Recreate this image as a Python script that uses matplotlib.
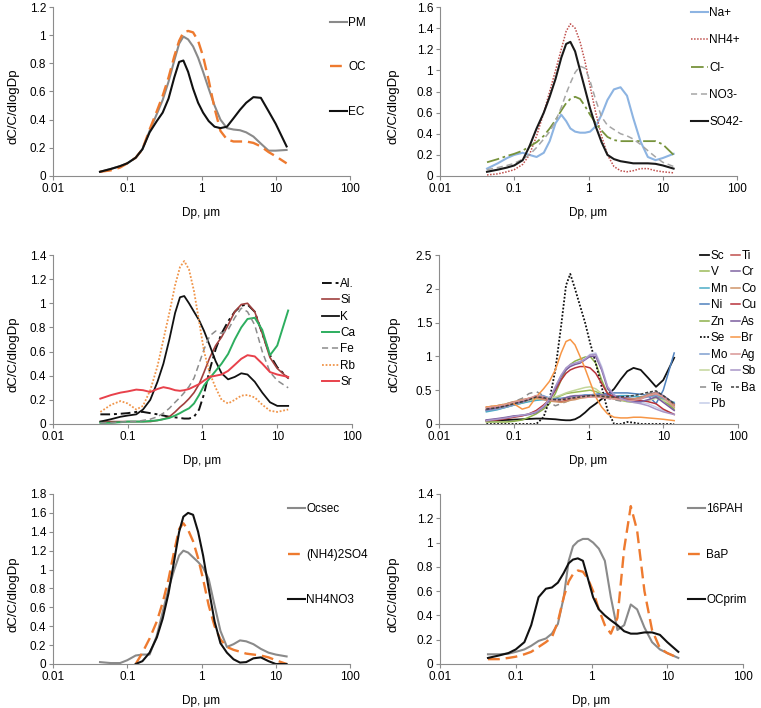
import numpy as np
import matplotlib
matplotlib.use("Agg")
import matplotlib.pyplot as plt
from matplotlib.ticker import FixedLocator, FuncFormatter, NullLocator

plt.rcParams['font.family'] = ['Liberation Sans', 'DejaVu Sans']
plt.rcParams['font.size'] = 8.5

# particle diameter (µm) at which the curves were read
dp = [0.043, 0.06, 0.08, 0.1, 0.13, 0.16, 0.2, 0.25, 0.3, 0.36, 0.43, 0.5, 0.57, 0.66,
      0.77, 0.9, 1.05, 1.25, 1.5, 1.8, 2.2, 2.7, 3.3, 4.0, 5.0, 6.3, 8.0, 10.0, 14.0]

# panel 1: PM, OC, EC
pm = [0.03, 0.05, 0.07, 0.09, 0.13, 0.19, 0.32, 0.44, 0.54, 0.67, 0.82, 0.94, 0.99, 0.97, 0.92,
      0.84, 0.74, 0.62, 0.50, 0.40, 0.34, 0.33, 0.325, 0.31, 0.28, 0.23, 0.18, 0.18, 0.185]
oc = [0.03, 0.04, 0.06, 0.09, 0.13, 0.19, 0.33, 0.46, 0.57, 0.70, 0.85, 0.96, 1.02, 1.03, 1.02,
      0.96, 0.85, 0.68, 0.48, 0.32, 0.26, 0.245, 0.245, 0.245, 0.235, 0.21, 0.17, 0.14, 0.09]
ec = [0.03, 0.05, 0.07, 0.09, 0.13, 0.19, 0.31, 0.39, 0.45, 0.55, 0.70, 0.81, 0.82, 0.74, 0.62,
      0.52, 0.45, 0.39, 0.35, 0.34, 0.35, 0.41, 0.47, 0.52, 0.56, 0.555, 0.46, 0.37, 0.21]

# panel 2: ions
na = [0.07, 0.12, 0.17, 0.20, 0.22, 0.20, 0.18, 0.22, 0.33, 0.50, 0.58, 0.52, 0.45, 0.42, 0.41,
      0.41, 0.42, 0.47, 0.58, 0.72, 0.82, 0.84, 0.76, 0.55, 0.33, 0.18, 0.15, 0.17, 0.21]
nh4 = [0.01, 0.02, 0.04, 0.06, 0.11, 0.20, 0.38, 0.60, 0.80, 1.00, 1.20, 1.37, 1.44, 1.40, 1.27,
       1.08, 0.85, 0.60, 0.38, 0.20, 0.09, 0.05, 0.04, 0.05, 0.07, 0.07, 0.05, 0.04, 0.03]
cl = [0.13, 0.16, 0.19, 0.21, 0.24, 0.28, 0.32, 0.38, 0.45, 0.53, 0.62, 0.69, 0.73, 0.75, 0.73,
      0.66, 0.58, 0.50, 0.43, 0.37, 0.34, 0.33, 0.33, 0.33, 0.33, 0.33, 0.33, 0.30, 0.20]
no3 = [0.06, 0.08, 0.10, 0.12, 0.16, 0.20, 0.27, 0.35, 0.42, 0.52, 0.65, 0.78, 0.88, 0.98, 1.04,
       1.02, 0.90, 0.72, 0.56, 0.48, 0.44, 0.40, 0.38, 0.35, 0.30, 0.24, 0.18, 0.13, 0.09]
so4 = [0.04, 0.06, 0.08, 0.10, 0.15, 0.28, 0.45, 0.60, 0.75, 0.92, 1.12, 1.25, 1.27, 1.18, 1.00,
       0.82, 0.64, 0.47, 0.32, 0.20, 0.16, 0.14, 0.13, 0.12, 0.12, 0.12, 0.115, 0.10, 0.07]

# panel 3: crustal elements
al = [0.08, 0.08, 0.085, 0.09, 0.10, 0.10, 0.09, 0.08, 0.07, 0.06, 0.055, 0.05, 0.045, 0.045, 0.06,
      0.12, 0.25, 0.45, 0.62, 0.75, 0.85, 0.93, 0.98, 0.99, 0.93, 0.75, 0.57, 0.47, 0.38]
si = [0.02, 0.02, 0.02, 0.02, 0.02, 0.02, 0.02, 0.03, 0.04, 0.06, 0.10, 0.14, 0.17, 0.21, 0.26,
      0.33, 0.43, 0.55, 0.65, 0.72, 0.82, 0.93, 0.99, 1.00, 0.93, 0.75, 0.55, 0.46, 0.38]
k = [0.02, 0.04, 0.06, 0.07, 0.08, 0.12, 0.20, 0.35, 0.50, 0.70, 0.92, 1.05, 1.06, 1.00, 0.93,
     0.86, 0.77, 0.65, 0.52, 0.42, 0.37, 0.39, 0.42, 0.41, 0.35, 0.26, 0.18, 0.15, 0.15]
ca = [0.01, 0.01, 0.015, 0.02, 0.02, 0.02, 0.025, 0.03, 0.04, 0.05, 0.07, 0.09, 0.11, 0.13, 0.17,
      0.24, 0.32, 0.38, 0.44, 0.50, 0.58, 0.70, 0.80, 0.87, 0.88, 0.78, 0.57, 0.65, 0.94]
fe = [0.01, 0.01, 0.015, 0.02, 0.02, 0.03, 0.04, 0.06, 0.09, 0.13, 0.18, 0.22, 0.26, 0.31, 0.38,
      0.50, 0.62, 0.73, 0.77, 0.75, 0.78, 0.88, 0.96, 0.93, 0.82, 0.60, 0.43, 0.36, 0.30]
rb = [0.10, 0.16, 0.19, 0.17, 0.12, 0.15, 0.28, 0.48, 0.70, 0.92, 1.15, 1.30, 1.35, 1.28, 1.10,
      0.85, 0.60, 0.42, 0.30, 0.20, 0.17, 0.20, 0.235, 0.24, 0.22, 0.16, 0.11, 0.10, 0.12]
sr = [0.21, 0.24, 0.26, 0.27, 0.285, 0.28, 0.265, 0.29, 0.305, 0.295, 0.28, 0.275, 0.28, 0.29, 0.31,
      0.33, 0.36, 0.39, 0.40, 0.41, 0.44, 0.49, 0.54, 0.57, 0.56, 0.50, 0.43, 0.41, 0.39]

# panel 4: trace elements
sc = [0.05, 0.055, 0.06, 0.065, 0.07, 0.075, 0.08, 0.08, 0.075, 0.07, 0.06, 0.055, 0.055, 0.07, 0.11,
      0.17, 0.24, 0.30, 0.37, 0.43, 0.52, 0.66, 0.78, 0.83, 0.80, 0.68, 0.55, 0.65, 0.98]
ti = [0.22, 0.25, 0.28, 0.31, 0.35, 0.38, 0.40, 0.38, 0.35, 0.34, 0.33, 0.35, 0.37, 0.38, 0.40,
      0.41, 0.42, 0.42, 0.41, 0.40, 0.40, 0.39, 0.38, 0.37, 0.38, 0.42, 0.45, 0.40, 0.28]
v = [0.20, 0.22, 0.25, 0.28, 0.31, 0.34, 0.37, 0.38, 0.36, 0.38, 0.42, 0.45, 0.46, 0.47, 0.48,
     0.49, 0.50, 0.48, 0.44, 0.40, 0.37, 0.35, 0.33, 0.32, 0.32, 0.35, 0.40, 0.36, 0.25]
cr = [0.21, 0.24, 0.27, 0.30, 0.33, 0.36, 0.42, 0.40, 0.36, 0.34, 0.36, 0.39, 0.41, 0.42, 0.42,
      0.41, 0.41, 0.42, 0.43, 0.43, 0.42, 0.40, 0.38, 0.36, 0.38, 0.43, 0.47, 0.42, 0.30]
mn = [0.18, 0.21, 0.25, 0.28, 0.31, 0.33, 0.35, 0.36, 0.35, 0.36, 0.37, 0.38, 0.39, 0.40, 0.41,
      0.42, 0.42, 0.41, 0.40, 0.40, 0.41, 0.42, 0.42, 0.41, 0.40, 0.41, 0.42, 0.38, 0.32]
co = [0.25, 0.27, 0.30, 0.33, 0.36, 0.38, 0.38, 0.36, 0.34, 0.33, 0.32, 0.33, 0.35, 0.36, 0.38,
      0.39, 0.40, 0.41, 0.41, 0.40, 0.39, 0.38, 0.37, 0.37, 0.39, 0.43, 0.46, 0.40, 0.28]
ni = [0.20, 0.23, 0.27, 0.30, 0.33, 0.35, 0.38, 0.40, 0.39, 0.38, 0.38, 0.39, 0.40, 0.41, 0.42,
      0.43, 0.43, 0.44, 0.45, 0.45, 0.46, 0.46, 0.46, 0.45, 0.44, 0.42, 0.30, 0.50, 1.05]
cu = [0.05, 0.06, 0.08, 0.10, 0.12, 0.15, 0.20, 0.28, 0.36, 0.50, 0.65, 0.75, 0.80, 0.83, 0.85,
      0.85, 0.83, 0.75, 0.60, 0.45, 0.40, 0.38, 0.36, 0.35, 0.35, 0.33, 0.30, 0.22, 0.14]
zn = [0.03, 0.03, 0.03, 0.04, 0.06, 0.10, 0.15, 0.22, 0.30, 0.45, 0.65, 0.80, 0.88, 0.93, 0.96,
      0.99, 1.00, 0.90, 0.65, 0.45, 0.40, 0.38, 0.36, 0.36, 0.38, 0.42, 0.42, 0.35, 0.22]
as_ = [0.06, 0.08, 0.10, 0.12, 0.13, 0.14, 0.17, 0.25, 0.35, 0.52, 0.70, 0.80, 0.85, 0.88, 0.90,
       0.95, 1.00, 1.00, 0.80, 0.52, 0.42, 0.38, 0.35, 0.33, 0.33, 0.36, 0.40, 0.32, 0.20]
se = [0.0, 0.0, 0.0, 0.0, 0.0, 0.0, 0.0, 0.10, 0.35, 0.80, 1.45, 2.05, 2.22, 2.00, 1.75,
      1.50, 1.20, 0.90, 0.55, 0.20, 0.0, 0.0, 0.03, 0.02, 0.0, 0.0, 0.0, 0.0, 0.0]
br = [0.25, 0.27, 0.29, 0.30, 0.22, 0.25, 0.40, 0.52, 0.63, 0.80, 1.05, 1.22, 1.25, 1.17, 1.00,
      0.82, 0.62, 0.40, 0.25, 0.15, 0.10, 0.09, 0.09, 0.10, 0.10, 0.09, 0.08, 0.07, 0.05]
mo = [0.20, 0.22, 0.25, 0.28, 0.32, 0.35, 0.40, 0.42, 0.38, 0.36, 0.37, 0.38, 0.39, 0.40, 0.41,
      0.42, 0.43, 0.43, 0.42, 0.41, 0.40, 0.40, 0.39, 0.38, 0.38, 0.40, 0.42, 0.38, 0.30]
ag = [0.24, 0.26, 0.29, 0.32, 0.35, 0.38, 0.42, 0.40, 0.36, 0.35, 0.36, 0.37, 0.38, 0.39, 0.40,
      0.40, 0.40, 0.40, 0.39, 0.38, 0.37, 0.36, 0.35, 0.35, 0.37, 0.42, 0.45, 0.40, 0.25]
cd = [0.22, 0.24, 0.27, 0.30, 0.33, 0.35, 0.37, 0.38, 0.38, 0.40, 0.43, 0.46, 0.48, 0.50, 0.52,
      0.54, 0.55, 0.52, 0.45, 0.40, 0.38, 0.36, 0.34, 0.33, 0.33, 0.35, 0.38, 0.35, 0.28]
sb = [0.05, 0.07, 0.09, 0.11, 0.13, 0.15, 0.18, 0.26, 0.37, 0.55, 0.72, 0.83, 0.88, 0.90, 0.92,
      0.96, 1.02, 1.03, 0.82, 0.55, 0.43, 0.38, 0.34, 0.32, 0.30, 0.27, 0.22, 0.18, 0.14]
te = [0.25, 0.27, 0.30, 0.33, 0.38, 0.45, 0.48, 0.42, 0.32, 0.27, 0.30, 0.33, 0.36, 0.38, 0.40,
      0.41, 0.42, 0.41, 0.40, 0.38, 0.36, 0.34, 0.34, 0.36, 0.40, 0.45, 0.48, 0.42, 0.30]
ba = [0.22, 0.24, 0.27, 0.30, 0.33, 0.36, 0.40, 0.39, 0.37, 0.36, 0.36, 0.37, 0.38, 0.39, 0.40,
      0.41, 0.42, 0.42, 0.41, 0.40, 0.40, 0.40, 0.41, 0.42, 0.44, 0.47, 0.49, 0.42, 0.30]
pb = [0.05, 0.07, 0.09, 0.11, 0.13, 0.15, 0.19, 0.27, 0.37, 0.55, 0.72, 0.82, 0.87, 0.90, 0.93,
      0.97, 1.03, 1.05, 0.85, 0.55, 0.43, 0.38, 0.35, 0.33, 0.32, 0.30, 0.25, 0.20, 0.15]

# panel 5: secondary species (nan = no data)
nan = np.nan
ocsec = [0.02, 0.01, 0.01, 0.04, 0.09, 0.10, 0.10, 0.30, 0.55, 0.80, 1.00, 1.15, 1.20, 1.18, 1.13,
         1.08, 1.02, 0.90, 0.62, 0.35, 0.18, 0.21, 0.25, 0.24, 0.21, 0.16, 0.12, 0.10, 0.08]
nh4_2so4 = [nan, nan, nan, nan, 0.0, 0.12, 0.27, 0.45, 0.65, 0.90, 1.20, 1.43, 1.49, 1.42, 1.30,
            1.12, 0.90, 0.62, 0.40, 0.26, 0.18, 0.15, 0.13, 0.11, 0.10, 0.09, 0.07, 0.04, 0.0]
nh4no3 = [nan, nan, nan, nan, 0.0, 0.03, 0.12, 0.28, 0.48, 0.75, 1.10, 1.40, 1.56, 1.60, 1.58,
          1.40, 1.15, 0.80, 0.45, 0.22, 0.12, 0.05, 0.015, 0.02, 0.06, 0.07, 0.03, 0.0, 0.0]

# panel 6: PAH and primary OC
pah16 = [0.08, 0.08, 0.085, 0.10, 0.12, 0.15, 0.19, 0.21, 0.25, 0.33, 0.55, 0.85, 0.97, 1.01, 1.03,
         1.03, 1.00, 0.95, 0.85, 0.55, 0.28, 0.32, 0.49, 0.45, 0.30, 0.18, 0.12, 0.09, 0.05]
bap = [0.04, 0.04, 0.05, 0.06, 0.08, 0.10, 0.14, 0.18, 0.22, 0.35, 0.55, 0.68, 0.74, 0.77, 0.76,
       0.70, 0.60, 0.45, 0.32, 0.25, 0.38, 0.95, 1.30, 1.10, 0.60, 0.28, 0.13, 0.09, 0.05]
ocprim = [0.05, 0.07, 0.09, 0.12, 0.18, 0.32, 0.55, 0.62, 0.63, 0.67, 0.75, 0.83, 0.86, 0.87, 0.85,
          0.70, 0.55, 0.45, 0.40, 0.36, 0.32, 0.27, 0.25, 0.25, 0.26, 0.26, 0.24, 0.18, 0.10]

ORANGE = '#EE7A2F'
GRAY = '#8A8A8A'
DASHED = (0, (5, 2.5))

W, H = 761, 708
fig = plt.figure(figsize=(W / 100, H / 100), dpi=100)


def make_axes(l, r, t, b, ymax, ystep, ylab_x):
    ax = fig.add_axes([l / W, 1 - b / H, (r - l) / W, (b - t) / H])
    ax.set_xscale('log')
    ax.set_xlim(0.01, 100)
    ax.set_ylim(0, ymax)
    ax.xaxis.set_major_locator(FixedLocator([0.01, 0.1, 1, 10, 100]))
    ax.xaxis.set_minor_locator(NullLocator())
    ax.xaxis.set_major_formatter(FuncFormatter(lambda x, p: '%g' % x))
    ax.yaxis.set_major_locator(FixedLocator(np.arange(0, ymax + 1e-9, ystep)))
    ax.yaxis.set_major_formatter(FuncFormatter(lambda y, p: '%g' % round(y, 2)))
    for s in ['top', 'right']:
        ax.spines[s].set_visible(False)
    for s in ['left', 'bottom']:
        ax.spines[s].set_color('#8C8C8C')
        ax.spines[s].set_linewidth(0.8)
    ax.tick_params(length=3, width=0.8, color='#8C8C8C', labelsize=8.5, pad=2)
    ax.set_xlabel('Dp, μm', labelpad=9)
    ax.set_ylabel('dC/C/dlogDp', fontsize=9.5)
    # label sits a little below the middle of the plot area, as in the source
    ax.yaxis.set_label_coords((ylab_x - l) / (r - l), 0.5 - 15 / (b - t))
    return ax


def add_legend(ax, x, y, spacing, ncol=1, hl=1.4, pad=0.15, colsp=0.6):
    ax.legend(loc='upper left', bbox_to_anchor=(x / W, 1 - y / H), bbox_transform=fig.transFigure,
              frameon=False, borderpad=0, borderaxespad=0, labelspacing=spacing, ncol=ncol,
              handlelength=hl, handletextpad=pad, columnspacing=colsp, fontsize=8.5)


# panel 1
ax1 = make_axes(53, 350, 7, 176, 1.2, 0.2, 20)
ax1.plot(dp, pm, color=GRAY, lw=1.5, label='PM')
ax1.plot(dp, oc, color=ORANGE, lw=1.7, ls=DASHED, label='OC')
ax1.plot(dp, ec, color='#111111', lw=1.5, label='EC')
add_legend(ax1, 330, 17, 2.75)

# panel 2
ax2 = make_axes(440, 737, 7, 176, 1.6, 0.2, 400)
ax2.plot(dp, na, color='#8DB4E2', lw=1.5, label='Na+')
ax2.plot(dp, nh4, color='#C0504D', lw=1.1, ls=(0, (1, 1)), label='NH4+')
ax2.plot(dp, cl, color='#77933C', lw=1.3, ls=(0, (7, 2, 1.5, 2)), label='Cl-')
ax2.plot(dp, no3, color='#A6A6A6', lw=1.1, ls=(0, (4, 2.5)), label='NO3-')
ax2.plot(dp, so4, color='#1A1A1A', lw=1.5, label='SO42-')
add_legend(ax2, 691, 7, 1.3)

# panel 3
ax3 = make_axes(53, 352, 255, 424, 1.4, 0.2, 20)
ax3.plot(dp, al, color='#111111', lw=1.4, ls=(0, (5, 2, 1.5, 2)), label='Al.')
ax3.plot(dp, si, color='#A0403E', lw=1.2, label='Si')
ax3.plot(dp, k, color='#111111', lw=1.3, label='K')
ax3.plot(dp, ca, color='#2DAE5F', lw=1.4, label='Ca')
ax3.plot(dp, fe, color='#8C8C8C', lw=1.1, ls=(0, (4, 2.5)), label='Fe')
ax3.plot(dp, rb, color='#F0954A', lw=1.3, ls=(0, (1, 1)), label='Rb')
ax3.plot(dp, sr, color='#E8414B', lw=1.4, label='Sr')
add_legend(ax3, 322, 278, 0.37)

# panel 4 (legend order filled column by column)
ax4 = make_axes(439, 738, 255, 424, 2.5, 0.5, 400)
col1 = [('Sc', sc, '#111111', '-'), ('V', v, '#9BBB59', '-'), ('Mn', mn, '#4BACC6', '-'),
        ('Ni', ni, '#4F81BD', '-'), ('Zn', zn, '#8DB04A', '-'), ('Se', se, '#111111', (0, (1, 1))),
        ('Mo', mo, '#7F9FCF', '-'), ('Cd', cd, '#C3D69B', '-'), ('Te', te, '#8C8C8C', (0, (4, 3))),
        ('Pb', pb, '#C5CDE8', '-')]
col2 = [('Ti', ti, '#C0504D', '-'), ('Cr', cr, '#8064A2', '-'), ('Co', co, '#D0956A', '-'),
        ('Cu', cu, '#B8323A', '-'), ('As', as_, '#7A5C9E', '-'), ('Br', br, '#F79646', '-'),
        ('Ag', ag, '#D99694', '-'), ('Sb', sb, '#A896C8', '-'), ('Ba', ba, '#404040', (0, (2, 1.2)))]
for name, vals, c, ls in col1 + col2:
    lw = 1.3 if name in ('Sc', 'Se') else 1.1
    ax4.plot(dp, vals, color=c, lw=lw, ls=ls, label=name)
add_legend(ax4, 700, 250, 0.38, ncol=2, hl=0.8, pad=0.1, colsp=0.3)

# panel 5
ax5 = make_axes(53, 350, 494, 664, 1.8, 0.2, 20)
ax5.plot(dp, ocsec, color=GRAY, lw=1.5, label='Ocsec')
ax5.plot(dp, nh4_2so4, color=ORANGE, lw=1.7, ls=DASHED, label='(NH4)2SO4')
ax5.plot(dp, nh4no3, color='#111111', lw=1.5, label='NH4NO3')
add_legend(ax5, 288, 503, 2.85)

# panel 6
ax6 = make_axes(440, 743, 494, 664, 1.4, 0.2, 400)
ax6.plot(dp, pah16, color=GRAY, lw=1.5, label='16PAH')
ax6.plot(dp, bap, color=ORANGE, lw=1.7, ls=DASHED, label='BaP')
ax6.plot(dp, ocprim, color='#111111', lw=1.5, label='OCprim')
add_legend(ax6, 688, 503, 2.85)

fig.savefig('out.png', dpi=100)
